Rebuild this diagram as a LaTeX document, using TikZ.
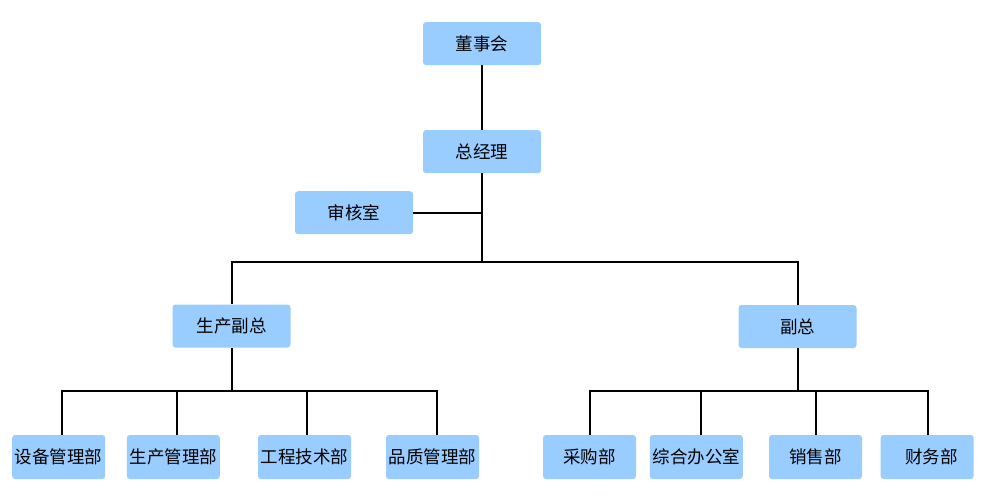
\documentclass[tikz,border=0pt]{standalone}
\usepackage{fontspec}
\newfontfamily\cjk{Noto Sans CJK SC}
\definecolor{boxblue}{RGB}{153,204,255}
\begin{document}
\begin{tikzpicture}[x=1pt,y=-1pt,
  box/.style={fill=boxblue, rounded corners=3pt, minimum width=118pt, minimum height=43pt, inner sep=0pt, font=\cjk\fontsize{17.5}{19}\selectfont},
  leaf/.style={box, minimum width=93pt, minimum height=44pt},
  conn/.style={line width=2pt, line join=miter}]
\useasboundingbox[fill=white] (0,0) rectangle (986,500);
% nodes
\node[box] (dsh) at (482,43.6) {董事会};
\node[box] (zjl) at (482,151.7) {总经理};
\node[box] (shs) at (354,212.7) {审核室};
\node[box] (scfz) at (231.5,326) {生产副总};
\node[box] (fz) at (797.5,326.5) {副总};
\node[leaf] (b1) at (58.7,457) {设备管理部};
\node[leaf] (b2) at (173.3,457) {生产管理部};
\node[leaf] (b3) at (304.5,457) {工程技术部};
\node[leaf] (b4) at (432.5,457) {品质管理部};
\node[leaf] (c1) at (589.5,457) {采购部};
\node[leaf] (c2) at (696.3,457) {综合办公室};
\node[leaf] (c3) at (815.5,457) {销售部};
\node[leaf] (c4) at (927.2,457) {\hspace*{9pt}财务部};
% junction coordinates
\coordinate (j1) at (482,262);
\coordinate (jl) at (232,262);
\coordinate (jr) at (798,262);
\coordinate (l1) at (62,391);
\coordinate (l2) at (177,391);
\coordinate (l3) at (307,391);
\coordinate (l4) at (437,391);
\coordinate (r1) at (590,391);
\coordinate (r2) at (701,391);
\coordinate (r3) at (816,391);
\coordinate (r4) at (928,391);
% connectors
\draw[conn] (dsh) -- (zjl);
\draw[conn] (zjl) -- (j1);
\draw[conn] (shs.east) -- (shs.east -| j1);
\draw[conn] (jl |- scfz.north) -- (jl) -- (jr) -- (jr |- fz.north);
\draw[conn] (l1 -| scfz.south) -- (scfz.south);
\draw[conn] (r1 -| fz.south) -- (fz.south);
\draw[conn] (l1 |- b1.north) -- (l1) -- (l4) -- (l4 |- b4.north);
\draw[conn] (l2) -- (l2 |- b2.north);
\draw[conn] (l3) -- (l3 |- b3.north);
\draw[conn] (r1 |- c1.north) -- (r1) -- (r4) -- (r4 |- c4.north);
\draw[conn] (r2) -- (r2 |- c2.north);
\draw[conn] (r3) -- (r3 |- c3.north);
\end{tikzpicture}
\end{document}
